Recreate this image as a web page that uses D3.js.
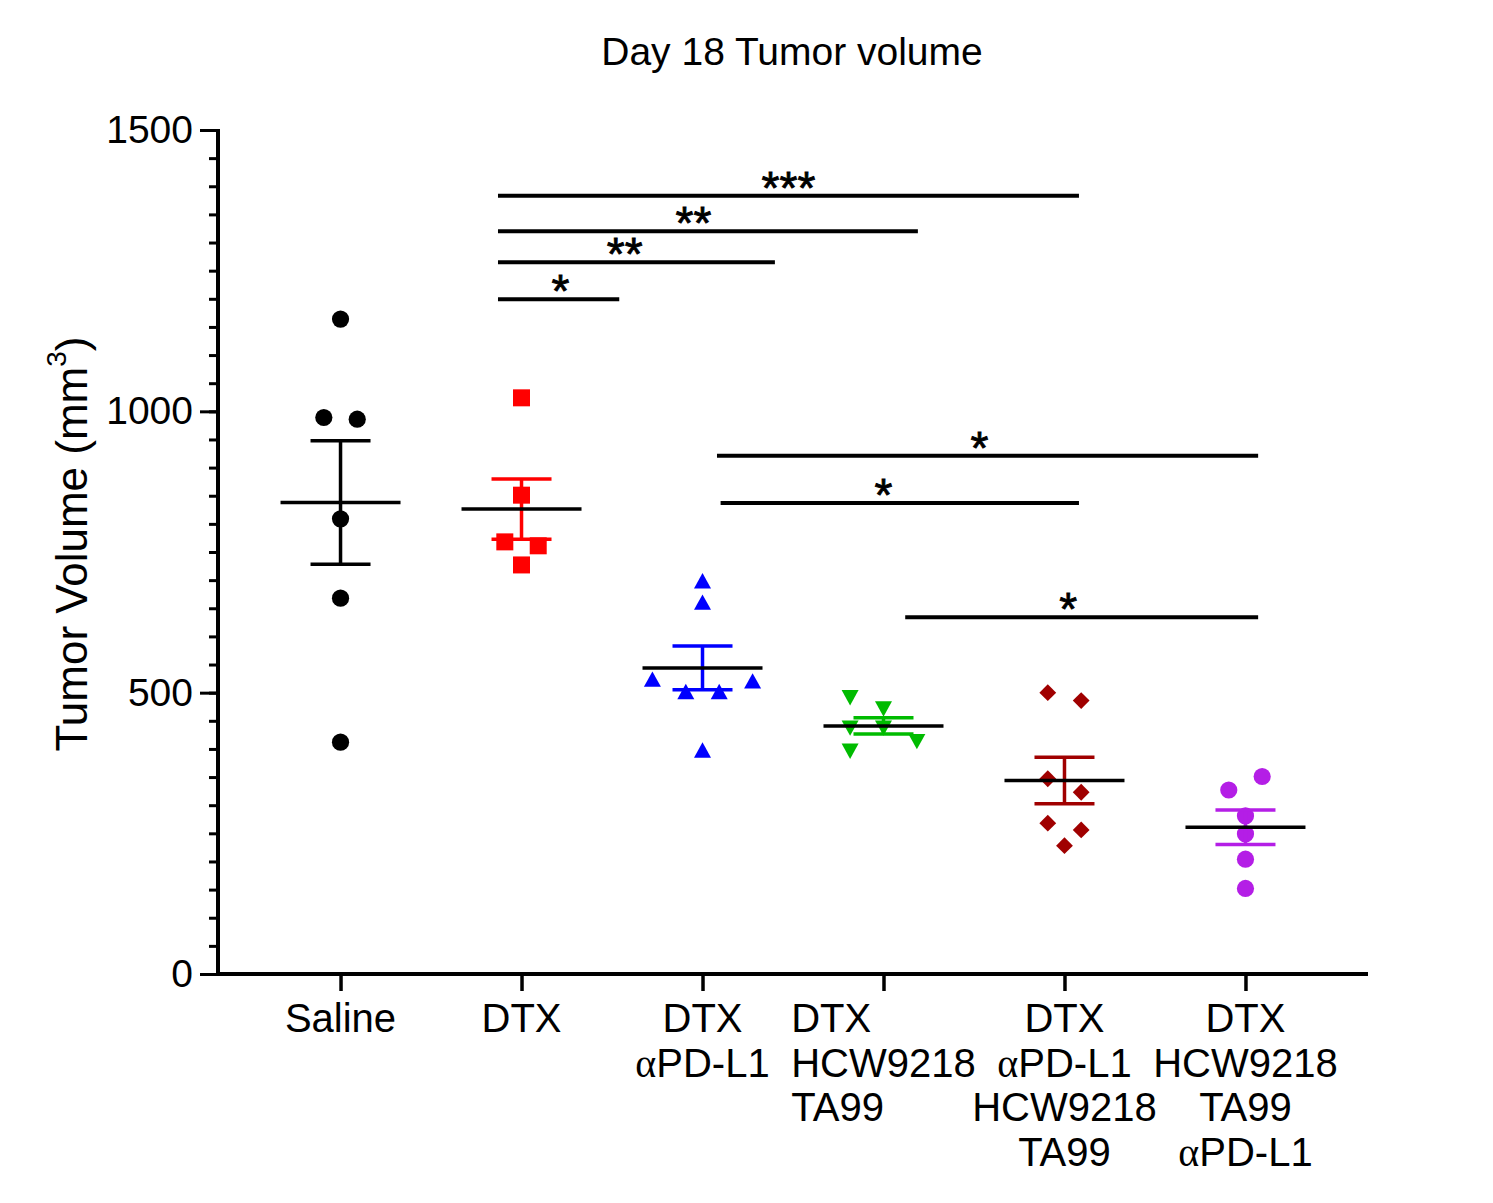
<!DOCTYPE html>
<html>
<head>
<meta charset="utf-8">
<script src="https://cdn.jsdelivr.net/npm/d3@7"></script>
<style>
  html, body { margin: 0; padding: 0; background: #fff; }
  svg { display: block; }
  text { font-family: "Liberation Sans", Arial, sans-serif; fill: #000; }
</style>
</head>
<body>
<svg id="chart" width="1493" height="1203"></svg>
<script>
// ---------- data ----------
const title = "Day 18 Tumor volume";
const yLabel = "Tumor Volume (mm";
const yLabelSup = "3";
const yTicks = [0, 500, 1000, 1500];

const categories = [
  ["Saline"],
  ["DTX"],
  ["DTX", "αPD-L1"],
  ["DTX", "HCW9218", "TA99"],
  ["DTX", "αPD-L1", "HCW9218", "TA99"],
  ["DTX", "HCW9218", "TA99", "αPD-L1"]
];

const saline     = [1164, 989, 986, 809, 668, 412];
const dtx        = [1024, 851, 768, 761, 727];
const dtxPDL1    = [699, 661, 524, 502, 502, 521, 398];
const dtxHT      = [491, 471, 437, 437, 413, 396];
const dtxPDL1HT  = [500, 486, 347, 323, 268, 256, 228];
const dtxHTPDL1  = [327, 351, 281, 249, 204, 152];

// horizontal scatter slot of each point (in marker half-widths)
const salineSlots    = [0, -1, 1, 0, 0, 0];
const dtxSlots       = [0, 0, -1, 1, 0];
const dtxPDL1Slots   = [0, 0, -3, -1, 1, 3, 0];
const dtxHTSlots     = [-2, 0, -2, 0, 2, -2];
const dtxPDL1HTSlots = [-1, 1, -1, 1, -1, 1, 0];
const dtxHTPDL1Slots = [-1, 1, 0, 0, 0, 0];

const groupValues = [saline, dtx, dtxPDL1, dtxHT, dtxPDL1HT, dtxHTPDL1];
const groupSlots  = [salineSlots, dtxSlots, dtxPDL1Slots, dtxHTSlots, dtxPDL1HTSlots, dtxHTPDL1Slots];
const groupColors = ["#000000", "#ff0000", "#0000ff", "#00bb00", "#a00000", "#b41ee6"];
const groupShapes = ["circle", "square", "triangle", "triangleDown", "diamond", "circle"];

// significance bars: from/to/labelAt in category index units, y in data units
const comparisons = [
  { from: 0.87, to: 4.08, at: 2.475, y: 1383, label: "***" },
  { from: 0.87, to: 3.19, at: 1.95,  y: 1320, label: "**" },
  { from: 0.87, to: 2.40, at: 1.57,  y: 1265, label: "**" },
  { from: 0.87, to: 1.54, at: 1.215, y: 1199, label: "*" },
  { from: 2.08, to: 5.07, at: 3.53,  y: 921,  label: "*" },
  { from: 2.10, to: 4.08, at: 3.00,  y: 837,  label: "*" },
  { from: 3.12, to: 5.07, at: 4.02,  y: 634,  label: "*" }
];

// ---------- drawing ----------
const svg = d3.select("#chart");
const pL = 218, pR = 1368, pT = 130, pB = 974;

const y = d3.scaleLinear().domain([0, 1500]).range([pB, pT]);
const x = d3.scalePoint().domain(d3.range(categories.length)).range([pL, pR]).padding(0.677);
const xf = f => x(0) + f * x.step();
const slotW = 16.7;

// title
svg.append("text")
  .attr("x", (pL + pR) / 2 - 1).attr("y", 65)
  .attr("text-anchor", "middle")
  .style("font-size", "39px")
  .text(title);

// y axis label
const yl = svg.append("text")
  .attr("transform", `translate(87, ${(pT + pB) / 2 - 8}) rotate(-90)`)
  .attr("text-anchor", "middle")
  .style("font-size", "44px");
yl.append("tspan").text(yLabel);
yl.append("tspan").attr("dy", "-0.75em").style("font-size", "28px").text(yLabelSup);
yl.append("tspan").attr("dy", "0.48em").text(")");

// y minor ticks
const yMinor = svg.append("g").attr("transform", `translate(${pL},0)`)
  .call(d3.axisLeft(y).tickValues(d3.range(0, 1501, 50)).tickSize(9).tickFormat(""));
yMinor.select(".domain").remove();
yMinor.selectAll("line").attr("stroke", "#000").attr("stroke-width", 3);

// y major axis
const yAx = svg.append("g").attr("transform", `translate(${pL},0)`)
  .call(d3.axisLeft(y).tickValues(yTicks).tickFormat(d3.format("d")).tickSize(18).tickSizeOuter(0).tickPadding(7));
yAx.select(".domain").attr("stroke", "#000").attr("stroke-width", 4)
  .attr("d", `M0,${pT - 1}V${pB + 2}`);
yAx.selectAll("line").attr("stroke", "#000").attr("stroke-width", 3);
yAx.selectAll("text").style("font-size", "39px").style("font-family", "'Liberation Sans', Arial, sans-serif").attr("fill", "#000");

// x axis
const xAx = svg.append("g").attr("transform", `translate(0,${pB})`)
  .call(d3.axisBottom(x).tickSize(17).tickSizeOuter(0).tickFormat(""));
xAx.select(".domain").attr("stroke", "#000").attr("stroke-width", 4)
  .attr("d", `M${pL - 2},0H${pR}`);
xAx.selectAll("line").attr("stroke", "#000").attr("stroke-width", 3.5);

// x labels
const lineH = 44.5;
categories.forEach((lines, i) => {
  const g = svg.append("g");
  const texts = lines.map((ln, k) => {
    const t = g.append("text")
      .attr("y", 1032 + k * lineH)
      .style("font-size", "40px");
    if (ln.startsWith("α")) {
      t.append("tspan").style("font-family", "'Liberation Serif', 'DejaVu Serif', serif").style("font-size", "40px").text("α");
      t.append("tspan").text(ln.slice(1));
    } else {
      t.text(ln);
    }
    return t;
  });
  if (i === 3) {
    const w = d3.max(texts, t => t.node().getComputedTextLength());
    texts.forEach(t => t.attr("x", x(i) - w / 2).attr("text-anchor", "start"));
  } else {
    texts.forEach(t => t.attr("x", x(i)).attr("text-anchor", "middle"));
  }
});

// marker paths
function markerPath(shape) {
  if (shape === "circle") return d3.symbol(d3.symbolCircle, Math.PI * 8.6 * 8.6)();
  if (shape === "square") return d3.symbol(d3.symbolSquare, 17 * 17)();
  if (shape === "diamond") {
    const p = d3.path(); const r = 8.4;
    p.moveTo(0, -r); p.lineTo(r, 0); p.lineTo(0, r); p.lineTo(-r, 0); p.closePath();
    return p.toString();
  }
  const w = 8.5, h = 7.7;
  const p = d3.path();
  if (shape === "triangle") { p.moveTo(0, -h); p.lineTo(w, h); p.lineTo(-w, h); }
  else { p.moveTo(0, h); p.lineTo(w, -h); p.lineTo(-w, -h); }
  p.closePath();
  return p.toString();
}

// points, error bars, means
groupValues.forEach((vals, i) => {
  const cx = x(i);
  const color = groupColors[i];
  const g = svg.append("g");
  g.selectAll("path.pt").data(vals).join("path")
    .attr("class", "pt")
    .attr("d", markerPath(groupShapes[i]))
    .attr("transform", (d, k) => `translate(${cx + groupSlots[i][k] * slotW},${y(d)})`)
    .attr("fill", color);

  const mean = d3.mean(vals);
  const sem = d3.deviation(vals) / Math.sqrt(vals.length);
  const eb = g.append("g").attr("stroke", color).attr("stroke-width", 3.5);
  eb.append("line").attr("x1", cx).attr("x2", cx).attr("y1", y(mean + sem)).attr("y2", y(mean - sem));
  eb.append("line").attr("x1", cx - 30).attr("x2", cx + 30).attr("y1", y(mean + sem)).attr("y2", y(mean + sem));
  eb.append("line").attr("x1", cx - 30).attr("x2", cx + 30).attr("y1", y(mean - sem)).attr("y2", y(mean - sem));
  g.append("line").attr("x1", cx - 60).attr("x2", cx + 60)
    .attr("y1", y(mean)).attr("y2", y(mean))
    .attr("stroke", "#000").attr("stroke-width", 3.5);
});

// significance bars
comparisons.forEach(c => {
  svg.append("line")
    .attr("x1", xf(c.from)).attr("x2", xf(c.to))
    .attr("y1", y(c.y)).attr("y2", y(c.y))
    .attr("stroke", "#000").attr("stroke-width", 4);
  svg.append("text")
    .attr("x", xf(c.at)).attr("y", y(c.y) + 8)
    .attr("text-anchor", "middle")
    .style("font-size", "46px")
    .style("stroke", "#000").style("stroke-width", 0.8)
    .text(c.label);
});
</script>
</body>
</html>
